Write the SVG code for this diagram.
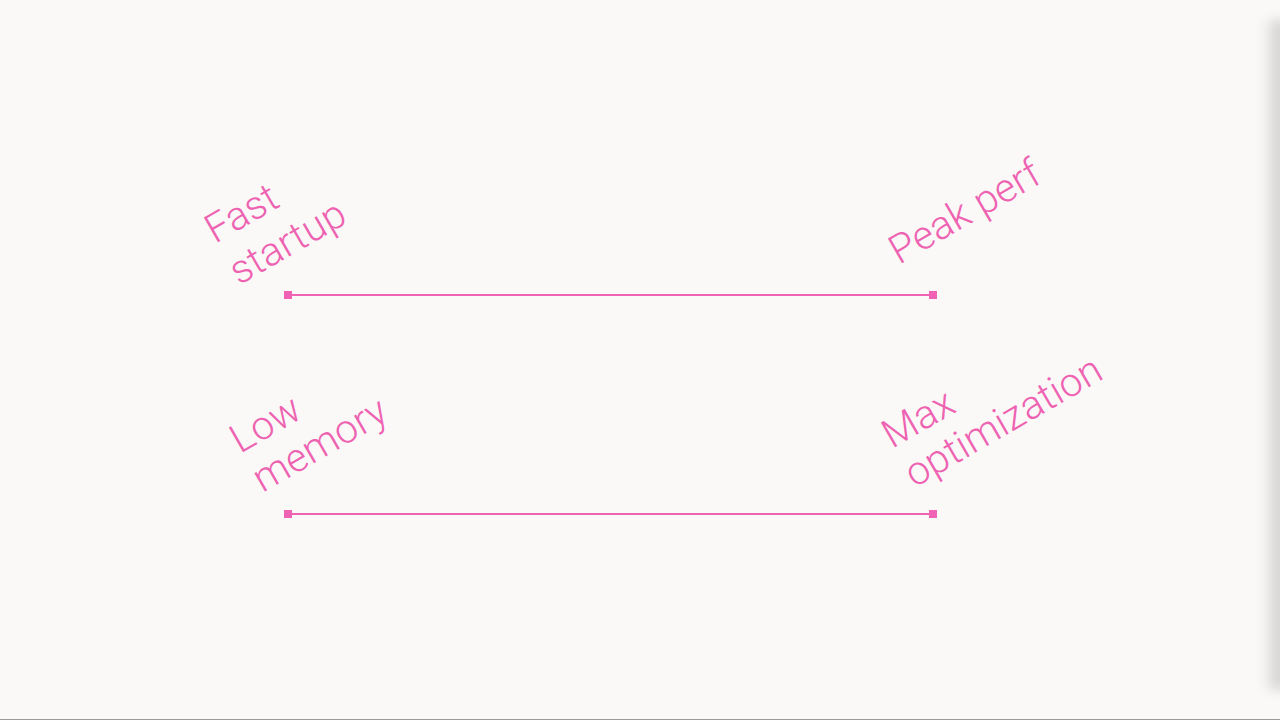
<svg xmlns="http://www.w3.org/2000/svg" width="1280" height="720" viewBox="0 0 1280 720">
<style>
.lbl{font-family:Roboto,"Liberation Sans",sans-serif;font-weight:300;font-size:40px;letter-spacing:0.2px;fill:#ee62b2}
.ln{stroke:#f062b4;stroke-width:2;fill:none}
.end{fill:#f062b4}
</style>
<defs>
<linearGradient id="sh" x1="0" y1="0" x2="1" y2="0">
<stop offset="0" stop-color="#000" stop-opacity="0"/>
<stop offset="1" stop-color="#000" stop-opacity="0.22"/>
</linearGradient>
<filter id="bl" x="-1" y="-0.2" width="3" height="1.4"><feGaussianBlur stdDeviation="6"/></filter>
</defs>
<rect width="1280" height="720" fill="#faf9f7"/>
<rect x="1262" y="20" width="24" height="670" fill="url(#sh)" filter="url(#bl)"/>
<line x1="0" y1="719.5" x2="1280" y2="719.5" stroke="#9a9a9a" stroke-width="1"/>
<g id="connectors">
<line class="ln" x1="288" y1="295" x2="933" y2="295"/>
<line class="ln" x1="288" y1="514" x2="933" y2="514"/>
</g>
<g id="fast-startup">
<rect class="end" x="284" y="291" width="8" height="8"/>
<text class="lbl" transform="rotate(-30 215 244)"><tspan x="215" y="244">Fast</tspan><tspan x="215" dy="48">startup</tspan></text>
</g>
<g id="peak-perf">
<rect class="end" x="929" y="291" width="8" height="8"/>
<text class="lbl" transform="rotate(-30 899 265)" x="899" y="265">Peak perf</text>
</g>
<g id="low-memory">
<rect class="end" x="284" y="510" width="8" height="8"/>
<text class="lbl" transform="rotate(-30 240 454)"><tspan x="240" y="454">Low</tspan><tspan x="240" dy="45">memory</tspan></text>
</g>
<g id="max-optimization">
<rect class="end" x="929" y="510" width="8" height="8"/>
<text class="lbl" transform="rotate(-30 892 449)"><tspan x="892" y="449">Max</tspan><tspan x="892" dy="45">optimization</tspan></text>
</g>
</svg>
